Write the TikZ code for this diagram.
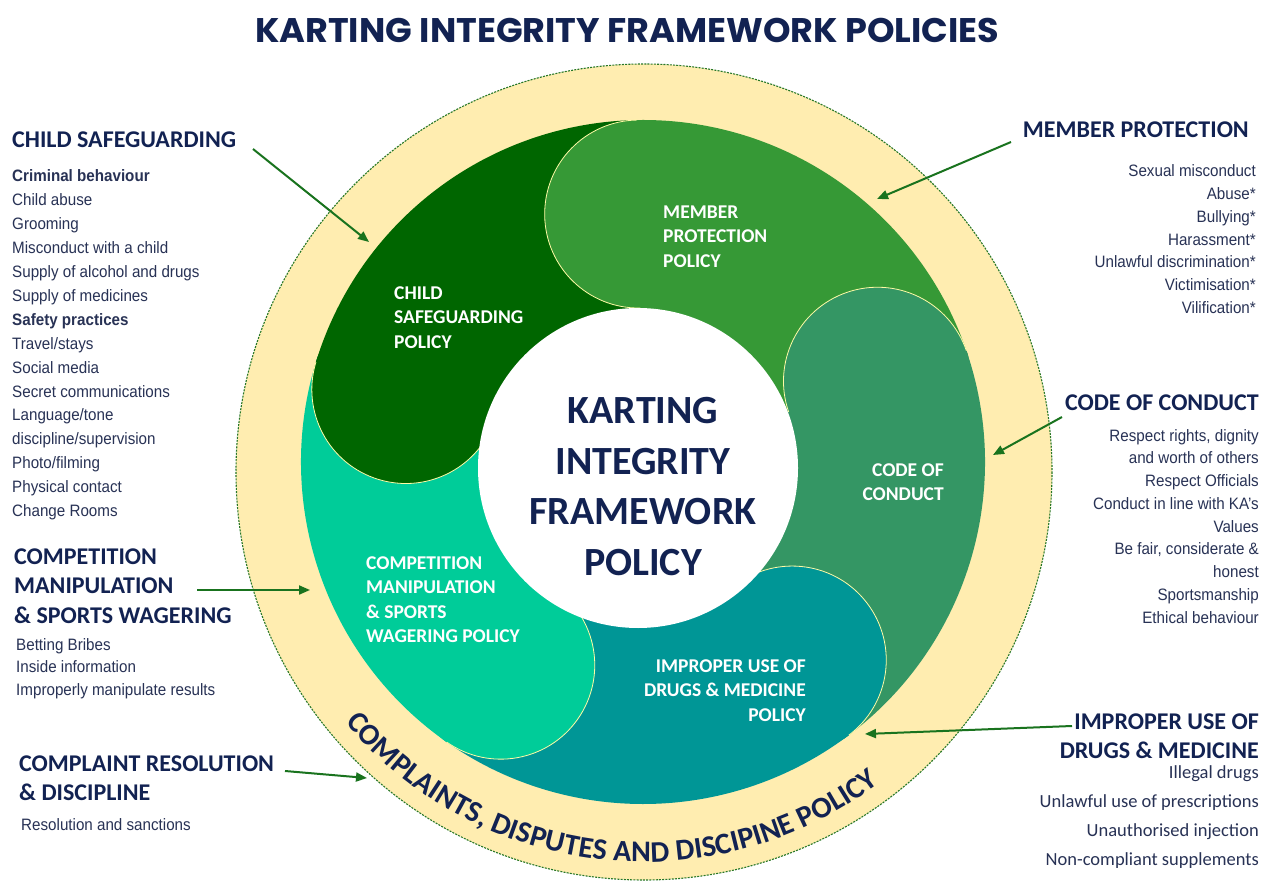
\documentclass[tikz,border=0pt]{standalone}
\usepackage{graphicx}
\usepackage{fontspec}
\setmainfont{Carlito}
\newfontfamily\carlito{Carlito}
\newfontfamily\listfont{Liberation Sans}[FakeStretch=0.92]
\newfontfamily\titlefont{Poppins}
\usetikzlibrary{calc,decorations.text,arrows.meta}

\definecolor{navy}{RGB}{18,34,82}
\definecolor{listc}{RGB}{40,50,85}
\definecolor{ringy}{RGB}{255,237,176}
\definecolor{ringedge}{RGB}{40,120,40}
\definecolor{arrowc}{RGB}{25,115,30}
\definecolor{csg}{RGB}{0,102,0}
\definecolor{mpg}{RGB}{54,153,54}
\definecolor{cocg}{RGB}{52,150,100}
\definecolor{iug}{RGB}{0,150,150}
\definecolor{cmg}{RGB}{0,204,153}

\newcommand\petalsector[3]{\fill[#1] ($(P)+(#2:342)$) arc[start angle=#2, end angle=#3, radius=342] -- ($(P)+(#3:120)$) arc[start angle=#3, end angle=#2, radius=120] -- cycle;}
\newcommand\petalcap[2]{\fill[#1] ($(P)+(#2:248)$) circle[radius=94];}
\newcommand\petaledge[1]{\draw[capedge] ($(P)+(#1:342)$) arc[start angle=#1, end angle={#1-180}, radius=94];}

\begin{document}
\begin{tikzpicture}[x=1pt,y=-1pt,
  hdr/.style={font=\carlito\bfseries\fontsize{24}{29.5}\selectfont, text=navy, inner sep=0pt},
  listtxt/.style={font=\listfont\fontsize{16.5}{20}\selectfont, text=listc, inner sep=0pt},
  iulist/.style={font=\carlito\fontsize{18.5}{22}\selectfont, text=listc, inner sep=0pt},
  ptxt/.style={font=\carlito\bfseries\fontsize{19.5}{24.5}\selectfont, text=white, inner sep=0pt},
  arr/.style={draw=arrowc, line width=2pt, -{Triangle[length=11pt,width=9pt]}},
  capedge/.style={draw=yellow!35!white, line width=0.8pt},
]
\useasboundingbox (0,0) rectangle (1266,882);
\fill[white] (0,0) rectangle (1266,882);

\coordinate (R0) at (644,472);
\coordinate (P) at (643,462);

% outer ring
\fill[ringy] (R0) circle[radius=408];
\draw[ringedge, line width=1.1pt, dash pattern=on 2pt off 1.2pt] (R0) circle[radius=408];

% petals
\petalsector{mpg}{-91}{-18}
\petalcap{mpg}{-91}
\petalsector{cocg}{-19}{54}
\petalcap{cocg}{-19}
\petaledge{-19}
\petalsector{iug}{53}{126}
\petalcap{iug}{53}
\petaledge{53}
\petalsector{cmg}{125}{198}
\petalcap{cmg}{125}
\petaledge{125}
\petalsector{csg}{197}{270}
\petalcap{csg}{197}
\petaledge{197}
\petalcap{mpg}{-91}
\petaledge{-91}

% centre
\node[circle, fill=white, minimum size=320pt, inner sep=0pt] (core) at (638,468) {};
\node[font=\carlito\bfseries\fontsize{40}{50.7}\selectfont, text=navy, align=center, inner sep=0pt, anchor=north] (ctext) at (643,397) {KARTING\\INTEGRITY\\FRAMEWORK\\POLICY};

% petal labels
\node[ptxt, align=left, anchor=north west] (mpl) at (663,205.4) {MEMBER\\PROTECTION\\POLICY};
\node[ptxt, align=left, anchor=north west] (csl) at (394,286.4) {CHILD\\SAFEGUARDING\\POLICY};
\node[ptxt, align=right, anchor=north east] (cocl) at (944,463.4) {CODE OF\\CONDUCT};
\node[ptxt, align=left, anchor=north west] (cml) at (366,556.4) {COMPETITION\\MANIPULATION\\\& SPORTS\\WAGERING POLICY};
\node[ptxt, align=right, anchor=north east] (iul) at (806,659.4) {IMPROPER USE OF\\DRUGS \& MEDICINE\\POLICY};

% curved text
\path[decorate, decoration={text along path, text={|\carlito\bfseries\fontsize{30}{36}\selectfont|COMPLAINTS, DISPUTES AND DISCIPINE POLICY}, text color=navy, text align={fit to path}}] ($(R0)+(140:390)$) arc[start angle=140, end angle=53, radius=390];

% title
\node[anchor=base west, inner sep=0pt, text=navy] (title) at (255,42.7) {\resizebox{744pt}{24.3pt}{\titlefont\bfseries KARTING INTEGRITY FRAMEWORK POLICIES}};

% headings
\node[hdr, anchor=base west] (csh) at (12,148) {CHILD SAFEGUARDING};
\node[hdr, anchor=base east] (mph) at (1249,138) {MEMBER PROTECTION};
\node[hdr, anchor=base east] (coch) at (1259,410) {CODE OF CONDUCT};
\node[hdr, align=left, anchor=north west] (cmh) at (14,548.5) {COMPETITION\\MANIPULATION\\\& SPORTS WAGERING};
\node[hdr, align=left, anchor=north west] (crh) at (19,755.5) {COMPLAINT RESOLUTION\\\& DISCIPLINE};
\node[hdr, align=right, anchor=north east] (iuh) at (1259,713.5) {IMPROPER USE OF\\DRUGS \& MEDICINE};

% lists
\foreach \t [count=\i from 0] in {{\bfseries Criminal behaviour}, Child abuse, Grooming, Misconduct with a child, Supply of alcohol and drugs, Supply of medicines, {\bfseries Safety practices}, Travel/stays, Social media, Secret communications, Language/tone, discipline/supervision, Photo/filming, Physical contact, Change Rooms}
  \node[listtxt, anchor=base west] (csi\i) at (12,{181.7+\i*23.93}) {\t};

\foreach \t [count=\i from 0] in {Sexual misconduct, Abuse*, Bullying*, Harassment*, Unlawful discrimination*, Victimisation*, Vilification*}
  \node[listtxt, anchor=base east] (mpi\i) at (1256,{177+\i*22.7}) {\t};

\foreach \t [count=\i from 0] in {{Respect rights, dignity}, and worth of others, Respect Officials, Conduct in line with KA’s, Values, {Be fair, considerate \&}, honest, Sportsmanship, Ethical behaviour}
  \node[listtxt, anchor=base east] (coci\i) at (1259,{441+\i*22.75}) {\t};

\foreach \t [count=\i from 0] in {Betting Bribes, Inside information, Improperly manipulate results}
  \node[listtxt, anchor=base west] (cmi\i) at (16,{650+\i*22.7}) {\t};

\node[listtxt, anchor=base west] (cri0) at (21,830) {Resolution and sanctions};

\foreach \t [count=\i from 0] in {Illegal drugs, Unlawful use of prescriptions, Unauthorised injection, Non-compliant supplements}
  \node[iulist, anchor=base east] (iui\i) at (1259,{778+\i*29}) {\t};

% arrows
\coordinate (a1s) at (253,149); \coordinate (a1e) at (369,242);
\coordinate (a2s) at (1011,142); \coordinate (a2e) at (877,199);
\coordinate (a3s) at (1062,417); \coordinate (a3e) at (993,455);
\coordinate (a4s) at (197,590); \coordinate (a4e) at (310,590);
\coordinate (a5s) at (285,771); \coordinate (a5e) at (367,778);
\coordinate (a6s) at (1072,726); \coordinate (a6e) at (865,734);
\draw[arr] (a1s) -- (a1e);
\draw[arr] (a2s) -- (a2e);
\draw[arr] (a3s) -- (a3e);
\draw[arr] (a4s) -- (a4e);
\draw[arr] (a5s) -- (a5e);
\draw[arr] (a6s) -- (a6e);
\end{tikzpicture}
\end{document}
